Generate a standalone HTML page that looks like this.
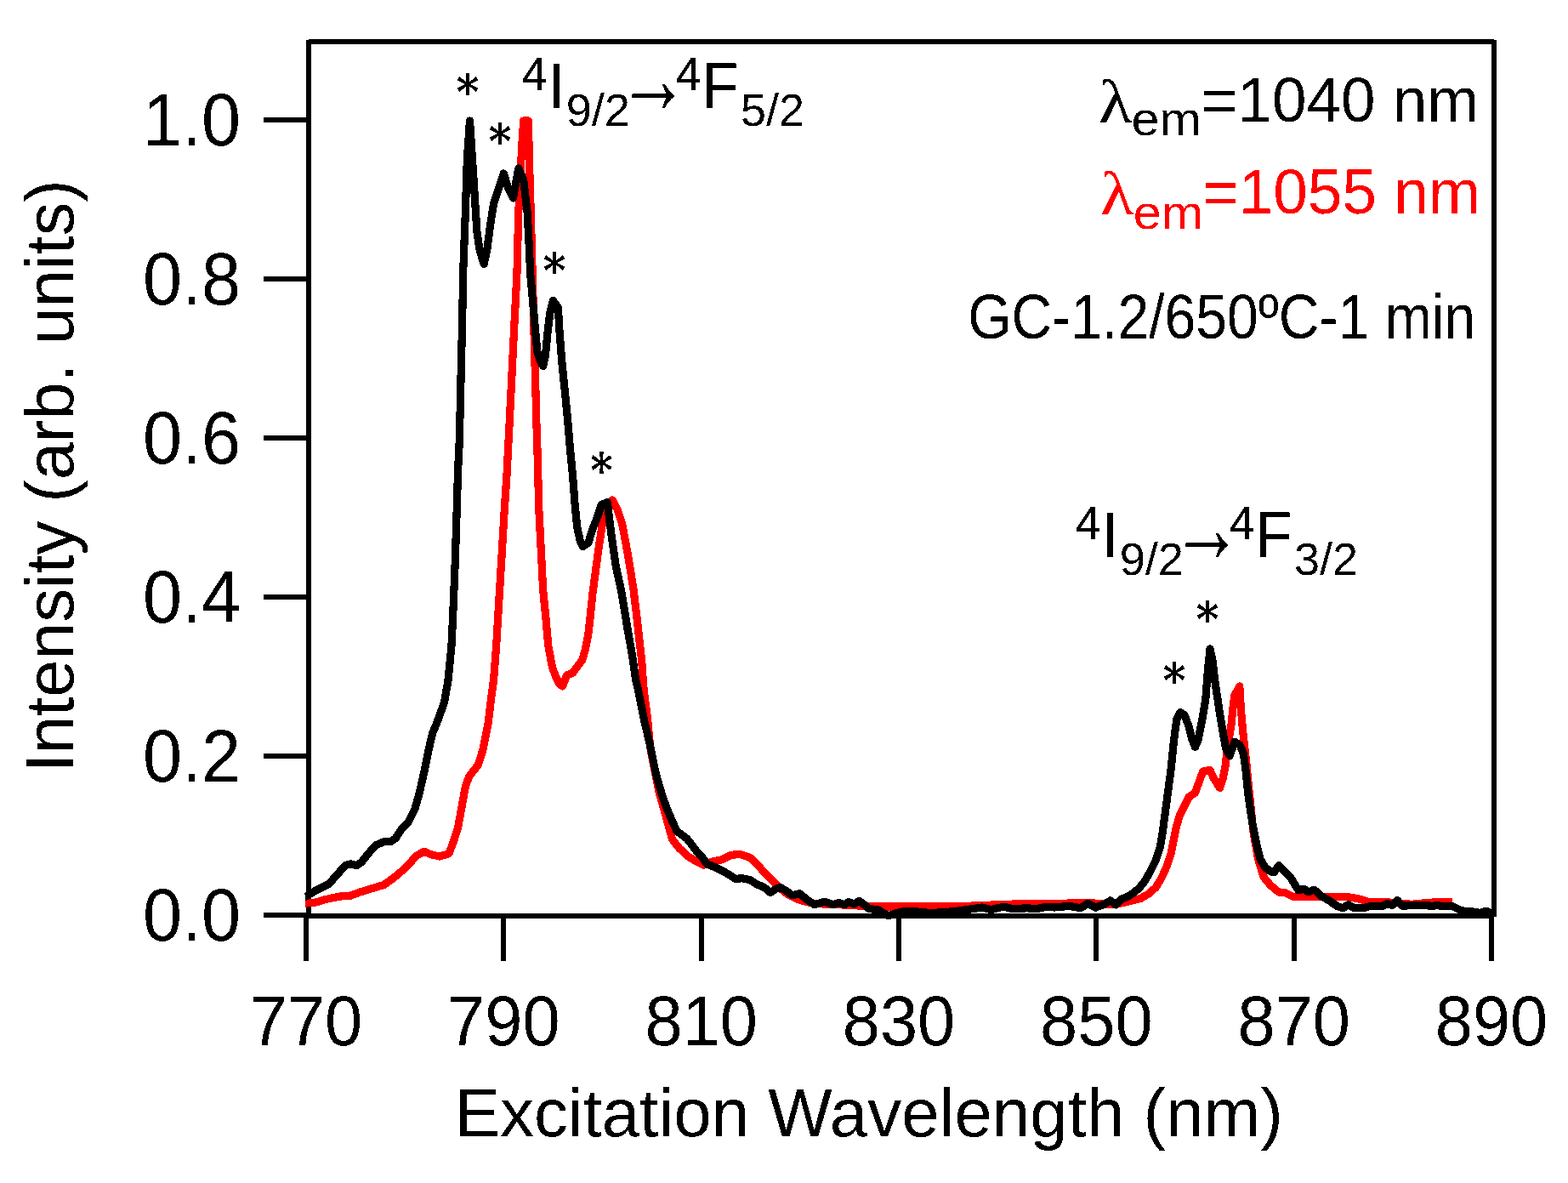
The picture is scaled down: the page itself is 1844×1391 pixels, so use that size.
<!DOCTYPE html>
<html lang="en"><head><meta charset="utf-8"><title>Excitation spectra</title>
<style>
html,body{margin:0;padding:0;background:#fff;overflow:hidden;width:1844px;height:1391px}
svg{display:block}
text{font-size:100px;white-space:pre}
.ss{font-family:"Liberation Sans",sans-serif}
.sf{font-family:"Liberation Serif",serif}
.dj{font-family:"DejaVu Serif",serif;font-weight:bold}
</style></head>
<body>
<svg width="1844" height="1391" viewBox="0 0 1844 1391">
<rect width="1844" height="1391" fill="#fff"/>
<path d="M360 47H366V1077H360ZM363 46H1757V52H363ZM1754 47H1760V1078H1754ZM363 1074H1757V1080H363ZM310 1073H363V1079H310ZM310 886H363V892H310ZM310 699H363V705H310ZM310 512H363V518H310ZM310 325H363V331H310ZM310 138H363V144H310ZM357 1077H363V1130H357ZM589 1077H595V1130H589ZM822 1077H828V1130H822ZM1054 1077H1060V1130H1054ZM1286 1077H1292V1130H1286ZM1519 1077H1525V1130H1519ZM1751 1077H1757V1130H1751Z" fill="#000" shape-rendering="crispEdges"/>
<polyline points="358.6,1062.0 360.0,1062.0 371.6,1061.0 382.3,1057.7 399.6,1054.0 411.5,1053.4 423.3,1049.0 440.6,1043.7 451.4,1040.5 462.1,1032.9 475.1,1022.0 490.2,1006.0 498.8,1001.2 507.4,1004.9 517.1,1007.0 527.9,1003.8 533.3,989.8 538.7,972.5 543.0,948.8 547.3,925.0 551.6,913.2 562.4,899.2 567.8,882.0 574.3,849.6 577.5,821.6 580.5,800.0 583.7,758.8 586.9,704.9 590.2,651.0 593.4,597.0 595.9,560.0 597.6,527.0 599.4,492.5 601.1,458.0 602.8,423.5 604.5,389.0 606.3,354.5 608.0,320.0 609.7,251.0 613.0,186.3 614.6,158.0 615.8,142.0 621.4,142.0 622.4,187.0 624.4,256.0 626.6,337.0 628.9,423.5 629.9,458.0 630.7,492.5 631.9,527.0 632.8,560.0 633.7,597.0 636.5,651.0 638.7,694.1 641.9,726.4 644.7,758.8 649.5,784.7 654.4,797.6 657.5,803.5 661.5,807.0 666.5,794.0 673.6,791.2 679.7,782.6 684.9,775.7 688.3,763.6 691.8,746.3 694.3,723.9 696.9,698.0 700.4,672.1 703.8,646.3 706.4,629.0 709.0,611.8 712.0,601.4 720.1,588.0 726.3,599.7 731.4,615.2 735.8,637.6 740.9,667.0 745.2,694.6 748.7,723.9 751.6,749.8 754.6,775.7 755.9,795.0 757.2,812.3 761.5,844.7 764.5,877.0 766.4,887.8 775.0,931.0 784.1,963.3 790.6,987.0 799.2,997.8 810.0,1007.5 820.8,1014.0 827.2,1017.2 838.0,1012.9 848.8,1010.8 859.6,1005.4 870.4,1004.3 882.2,1008.6 894.1,1020.5 904.9,1032.3 915.7,1043.1 926.4,1051.7 937.2,1057.1 948.0,1060.4 958.8,1062.5 980.4,1063.6 1000.0,1064.2 1020.0,1066.0 1140.0,1066.0 1142.7,1065.0 1207.8,1062.4 1272.8,1062.0 1286.0,1062.0 1308.8,1063.8 1325.1,1060.6 1341.3,1056.5 1351.1,1050.8 1359.2,1043.5 1365.7,1032.9 1372.3,1018.3 1377.1,1003.6 1380.4,987.4 1383.6,971.1 1387.7,958.1 1393.4,946.7 1398.3,936.9 1405.6,932.1 1409.7,920.7 1414.6,907.0 1423.0,905.5 1427.6,915.8 1434.6,926.4 1438.1,915.8 1441.4,899.5 1443.0,880.0 1447.8,854.0 1450.2,830.3 1451.8,817.6 1457.8,807.0 1458.6,822.3 1460.4,846.1 1462.7,869.8 1465.4,893.5 1467.5,915.0 1473.9,977.6 1479.6,1010.1 1486.1,1031.3 1494.3,1041.1 1504.0,1049.2 1512.2,1050.0 1520.3,1054.1 1536.6,1054.1 1556.0,1054.1 1582.0,1054.1 1600.3,1057.4 1610.7,1061.0 1634.0,1061.0 1660.0,1063.3 1673.0,1062.0 1686.0,1061.0 1708.0,1061.0" fill="none" stroke="#ff0000" stroke-width="9.2" stroke-linejoin="round" stroke-linecap="butt" shape-rendering="crispEdges"/>
<polyline points="358.6,1054.0 360.0,1054.0 371.6,1047.0 386.7,1039.4 395.3,1029.7 406.0,1017.8 412.5,1015.7 419.0,1017.8 425.5,1013.5 432.0,1004.9 441.7,994.0 451.4,989.8 460.0,989.3 465.4,985.5 470.8,976.8 480.5,966.0 488.0,951.0 493.4,931.6 498.8,907.8 503.1,886.3 508.5,862.5 513.9,849.6 522.5,825.9 527.0,800.0 531.0,759.0 533.0,716.0 535.2,662.0 537.3,597.0 538.5,555.0 540.0,525.0 541.3,478.0 542.5,424.0 543.5,385.0 544.7,320.0 547.3,251.0 549.4,186.0 552.5,142.0 555.4,186.3 558.2,229.4 560.9,272.5 564.1,294.1 569.1,310.5 572.7,294.1 577.0,261.7 580.9,238.0 587.8,217.5 592.3,204.0 597.5,220.8 603.5,233.0 607.2,212.1 609.8,198.0 615.8,212.1 620.2,251.0 622.8,300.0 623.5,320.0 626.6,354.5 629.6,389.0 631.8,413.2 635.6,425.2 638.8,430.5 641.6,416.6 644.2,389.0 646.8,368.3 650.4,353.5 656.3,361.4 658.0,389.0 660.6,423.5 664.1,458.0 667.5,492.5 670.4,527.0 673.6,560.0 676.2,594.5 678.8,620.4 682.3,635.9 685.3,642.5 691.8,638.5 696.9,622.1 703.0,606.6 707.3,593.6 714.3,590.5 716.8,611.8 720.2,637.6 724.5,667.0 730.6,694.6 734.0,715.3 738.3,741.2 743.5,770.5 747.8,800.0 750.7,812.3 757.1,844.7 764.7,877.0 771.2,909.4 778.7,935.3 784.1,950.4 790.6,965.5 796.0,977.3 807.8,986.0 815.4,995.7 820.8,1003.2 826.2,1008.6 831.6,1016.1 840.2,1019.4 851.0,1024.8 858.5,1029.1 865.0,1033.4 872.5,1032.8 882.2,1034.5 889.8,1039.9 898.4,1043.1 906.0,1049.6 912.4,1045.3 917.8,1043.5 924.3,1047.4 931.8,1052.8 940.5,1050.7 948.0,1057.1 957.7,1063.6 969.6,1060.4 980.4,1063.6 986.5,1061.3 993.0,1063.8 997.9,1060.5 1004.4,1063.0 1010.6,1059.4 1017.4,1064.6 1022.3,1068.7 1032.0,1069.5 1038.6,1073.5 1045.0,1076.8 1051.6,1074.4 1061.3,1071.9 1077.6,1071.9 1093.9,1073.5 1110.1,1072.7 1126.4,1071.1 1142.7,1068.7 1154.9,1067.0 1165.5,1069.5 1180.1,1066.2 1191.5,1068.7 1207.8,1067.8 1219.1,1068.7 1230.5,1066.2 1240.3,1067.0 1256.6,1065.4 1265.0,1066.5 1270.6,1067.9 1279.5,1062.2 1288.5,1067.1 1299.0,1063.0 1305.9,1058.9 1312.1,1063.8 1318.6,1057.3 1325.1,1054.9 1331.6,1050.8 1339.7,1044.3 1346.2,1036.2 1352.7,1024.8 1359.2,1011.8 1364.1,997.1 1367.4,977.6 1370.6,953.2 1373.9,928.8 1377.1,904.4 1380.6,869.8 1383.8,846.1 1388.1,837.5 1393.3,841.3 1398.0,854.0 1402.0,869.8 1405.5,878.4 1409.1,869.8 1413.8,846.1 1417.8,822.3 1420.2,790.7 1423.0,763.0 1425.7,774.9 1429.6,806.5 1434.4,838.2 1438.3,861.9 1441.5,879.3 1446.2,888.7 1449.4,879.3 1452.0,872.2 1458.1,876.1 1462.1,885.6 1464.4,900.0 1468.2,936.9 1473.1,969.5 1478.0,993.9 1482.1,1010.1 1487.8,1019.9 1494.3,1024.8 1498.3,1025.6 1504.0,1017.5 1510.5,1024.8 1517.0,1030.5 1521.9,1038.6 1526.8,1046.7 1533.3,1045.1 1538.5,1048.8 1545.6,1046.2 1553.4,1053.4 1562.5,1058.6 1573.0,1065.7 1579.5,1067.7 1585.3,1063.8 1591.2,1067.0 1602.9,1067.7 1610.7,1065.7 1626.3,1065.1 1631.5,1062.5 1637.4,1064.4 1643.2,1058.6 1649.1,1065.1 1660.2,1064.7 1673.2,1064.4 1683.6,1065.3 1690.1,1064.7 1697.9,1065.5 1708.3,1065.7 1718.7,1070.9 1730.4,1071.8 1740.9,1073.5 1747.4,1071.3 1753.9,1073.5" fill="none" stroke="#000" stroke-width="9.2" stroke-linejoin="round" stroke-linecap="butt" shape-rendering="crispEdges"/>
<defs><filter id="bin" x="0" y="0" width="1844" height="1391" filterUnits="userSpaceOnUse" color-interpolation-filters="sRGB"><feComponentTransfer><feFuncA type="discrete" tableValues="0 1"/></feComponentTransfer></filter></defs>
<g filter="url(#bin)">
<text class="ss" transform="matrix(0.8288 0 0 0.8620 167.90 1106.14)">0.0</text>
<text class="ss" transform="matrix(0.8288 0 0 0.8620 167.90 919.14)">0.2</text>
<text class="ss" transform="matrix(0.8288 0 0 0.8620 167.90 732.14)">0.4</text>
<text class="ss" transform="matrix(0.8288 0 0 0.8620 167.90 545.14)">0.6</text>
<text class="ss" transform="matrix(0.8288 0 0 0.8620 167.90 358.14)">0.8</text>
<text class="ss" transform="matrix(0.8288 0 0 0.8620 167.90 171.14)">1.0</text>
<text class="ss" transform="matrix(0.7943 0 0 0.8252 293.72 1229.17)">770</text>
<text class="ss" transform="matrix(0.7943 0 0 0.8252 526.06 1229.17)">790</text>
<text class="ss" transform="matrix(0.7943 0 0 0.8252 758.39 1229.17)">810</text>
<text class="ss" transform="matrix(0.7943 0 0 0.8252 990.72 1229.17)">830</text>
<text class="ss" transform="matrix(0.7943 0 0 0.8252 1223.06 1229.17)">850</text>
<text class="ss" transform="matrix(0.7943 0 0 0.8252 1455.39 1229.17)">870</text>
<text class="ss" transform="matrix(0.7943 0 0 0.8252 1687.72 1229.17)">890</text>
<text class="ss" transform="matrix(0.7991 0 0 0.7947 534.71 1336.31)">Excitation Wavelength (nm)</text>
<text class="ss" transform="matrix(0 -0.7936 0.7979 0 85.54 908.14)">Intensity (arb. units)</text>
<text class="ss" transform="matrix(0.5333 0 0 0.5597 613.83 105.52)">4</text>
<text class="ss" transform="matrix(0.7000 0 0 0.7652 644.70 126.80)">I</text>
<text class="ss" transform="matrix(0.5421 0 0 0.5378 665.66 148.29)">9/2</text>
<text class="ss" transform="matrix(0.8317 0 0 1.2083 726.57 133.34)">→</text>
<text class="ss" transform="matrix(0.5333 0 0 0.5597 794.83 105.52)">4</text>
<text class="ss" transform="matrix(0.7071 0 0 0.7652 825.34 126.80)">F</text>
<text class="ss" transform="matrix(0.5392 0 0 0.5378 870.94 148.29)">5/2</text>
<text class="ss" transform="matrix(0.5333 0 0 0.5597 1264.83 633.62)">4</text>
<text class="ss" transform="matrix(0.7000 0 0 0.7652 1295.70 654.90)">I</text>
<text class="ss" transform="matrix(0.5421 0 0 0.5378 1316.66 676.39)">9/2</text>
<text class="ss" transform="matrix(0.8317 0 0 1.2083 1377.57 661.44)">→</text>
<text class="ss" transform="matrix(0.5333 0 0 0.5597 1445.83 633.62)">4</text>
<text class="ss" transform="matrix(0.7071 0 0 0.7652 1476.34 654.90)">F</text>
<text class="ss" transform="matrix(0.5392 0 0 0.5378 1521.94 676.39)">3/2</text>
<text class="sf" transform="matrix(0.8154 0 0 0.7262 1292.06 143.64)">λ</text>
<text class="ss" transform="matrix(0.5930 0 0 0.5509 1330.53 159.45)">em</text>
<text class="ss" transform="matrix(0.7288 0 0 0.7479 1412.82 143.15)">=1040 nm</text>
<text class="sf" transform="matrix(0.8132 0 0 0.7277 1294.07 251.74)" fill="#ff0000">λ</text>
<text class="ss" transform="matrix(0.5922 0 0 0.5473 1332.73 268.65)" fill="#ff0000">em</text>
<text class="ss" transform="matrix(0.7304 0 0 0.7465 1413.91 251.15)" fill="#ff0000">=1055 nm</text>
<text class="ss" transform="matrix(0.6607 0 0 0.7338 1138.20 398.00)">GC-1.2/650ºC-1 min</text>
<text class="dj" transform="matrix(0.5125 0 0 0.5511 536.73 128.13)">*</text>
<text class="dj" transform="matrix(0.5125 0 0 0.5511 574.63 186.13)">*</text>
<text class="dj" transform="matrix(0.5125 0 0 0.5511 638.68 338.13)">*</text>
<text class="dj" transform="matrix(0.5125 0 0 0.5511 693.88 573.08)">*</text>
<text class="dj" transform="matrix(0.5125 0 0 0.5511 1367.83 820.13)">*</text>
<text class="dj" transform="matrix(0.5125 0 0 0.5511 1406.67 748.18)">*</text>
</g>
</svg>
</body></html>
